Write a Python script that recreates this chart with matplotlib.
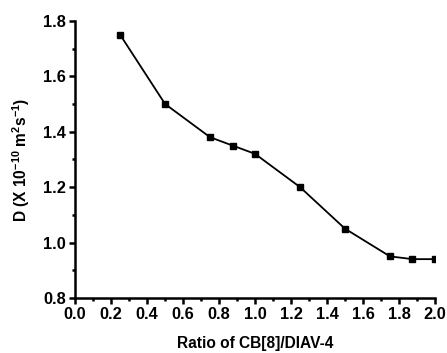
import matplotlib
matplotlib.use("Agg")
import matplotlib.pyplot as plt
from matplotlib.ticker import MultipleLocator

ratio = [0.25, 0.5, 0.75, 0.875, 1.0, 1.25, 1.5, 1.75, 1.875, 2.0]
D = [1.75, 1.50, 1.38, 1.35, 1.32, 1.20, 1.05, 0.95, 0.94, 0.94]

plt.rcParams['font.family'] = ['Liberation Sans', 'DejaVu Sans']
plt.rcParams['font.weight'] = 'bold'
plt.rcParams['mathtext.fontset'] = 'custom'
plt.rcParams['mathtext.rm'] = 'Liberation Sans:bold'
plt.rcParams['mathtext.bf'] = 'Liberation Sans:bold'
plt.rcParams['mathtext.default'] = 'bf'
plt.rcParams['axes.unicode_minus'] = False

fig = plt.figure(figsize=(4.47, 3.53), dpi=100)
ax = fig.add_axes([0.168, 0.156, 0.805, 0.785])
ax.plot(ratio, D, color='black', lw=1.3, marker='s', ms=4.5)
ax.set_xlim(0.0, 2.0)
ax.set_ylim(0.8, 1.8)
ax.xaxis.set_major_locator(MultipleLocator(0.2))
ax.xaxis.set_minor_locator(MultipleLocator(0.1))
ax.yaxis.set_major_locator(MultipleLocator(0.2))
ax.yaxis.set_minor_locator(MultipleLocator(0.1))
for s in ['top', 'right']:
    ax.spines[s].set_visible(False)
for s in ['left', 'bottom']:
    ax.spines[s].set_linewidth(1.8)
ax.tick_params(which='major', direction='out', length=4, width=1.8, labelsize=11.8, pad=2.5)
ax.tick_params(which='minor', direction='out', length=2.5, width=1.8)
ax.set_xticklabels([f"{v:.1f}" for v in ax.get_xticks()], fontweight='bold')
ax.set_yticklabels([f"{v:.1f}" for v in ax.get_yticks()], fontweight='bold')
ax.set_xlabel('Ratio of CB[8]/DIAV-4', fontsize=11.2, fontweight='bold', labelpad=10)
ax.set_ylabel(r'D (X 10$^{\mathbf{-10}}$ m$^{\mathbf{2}}$s$^{\mathbf{-1}}$)', fontsize=11.2,
              fontweight='bold', labelpad=8)
fig.savefig('out.png', dpi=100)
